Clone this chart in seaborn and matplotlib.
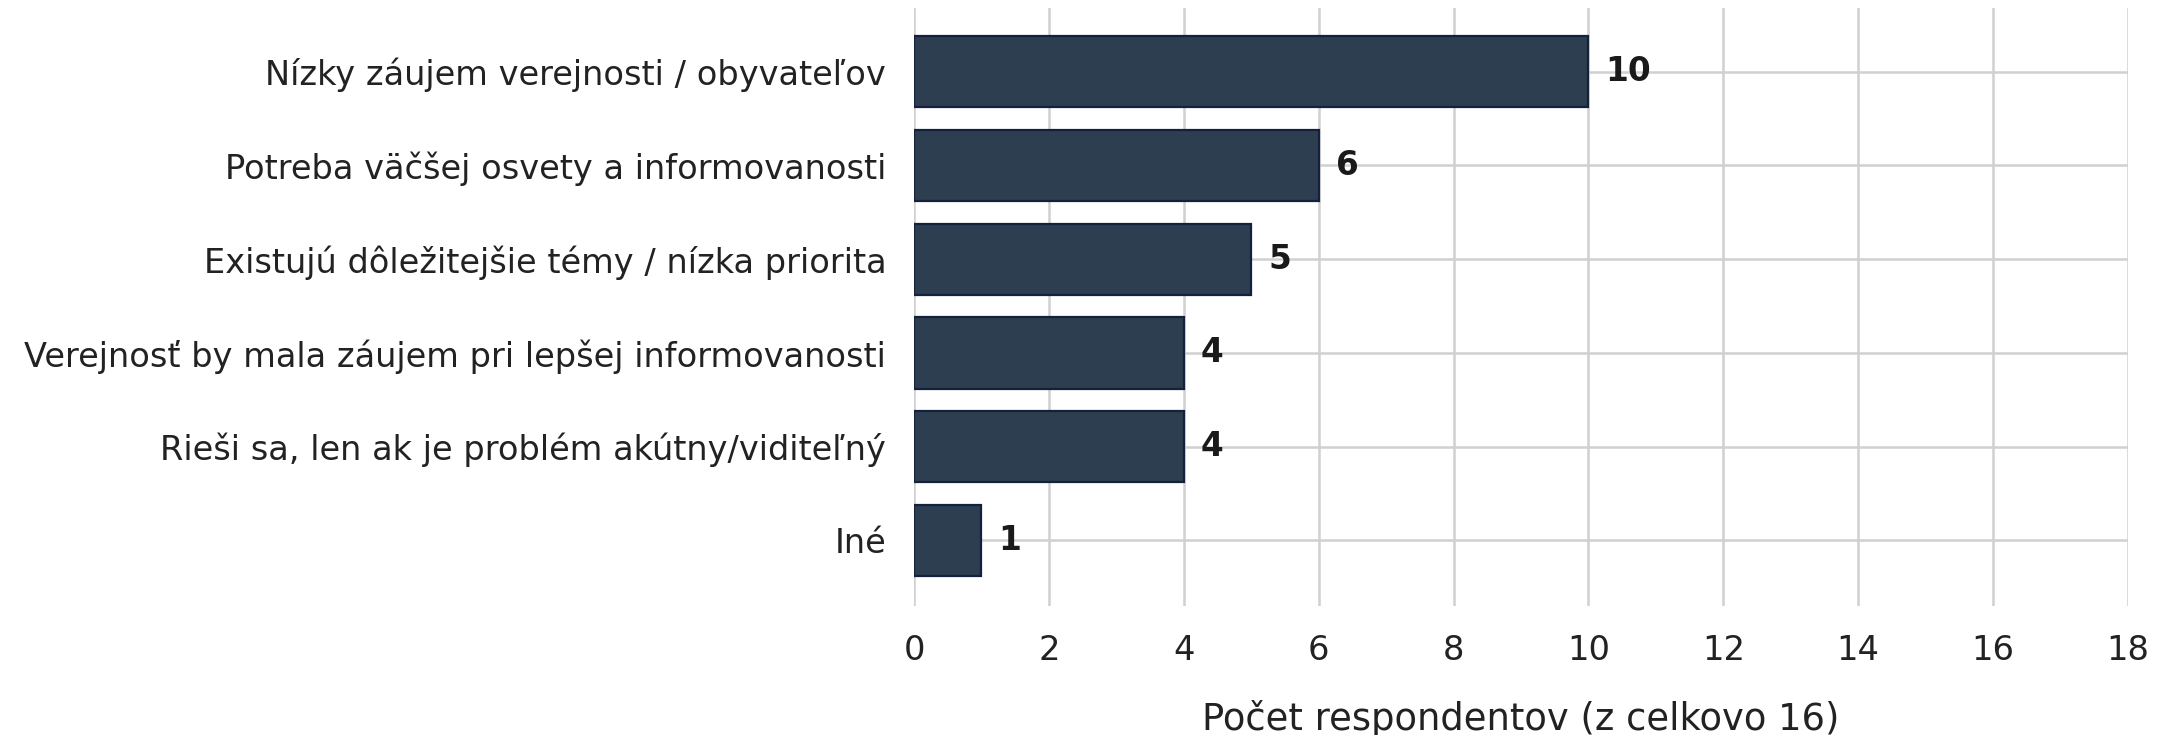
import matplotlib
matplotlib.use("Agg")
import matplotlib.pyplot as plt
import seaborn as sns
import pandas as pd

categories = [
    "Nízky záujem verejnosti / obyvateľov",
    "Potreba väčšej osvety a informovanosti",
    "Existujú dôležitejšie témy / nízka priorita",
    "Verejnosť by mala záujem pri lepšej informovanosti",
    "Rieši sa, len ak je problém akútny/viditeľný",
    "Iné",
]
counts = [10, 6, 5, 4, 4, 1]
xticks = [0, 2, 4, 6, 8, 10, 12, 14, 16, 18]
xlabel = "Počet respondentov (z celkovo 16)"

df = pd.DataFrame({"cat": categories, "n": counts})

sns.set_theme(style="whitegrid")
plt.rcParams["font.family"] = ["DejaVu Sans"]

DPI = 200
fig = plt.figure(figsize=(2177 / DPI, 735 / DPI), dpi=DPI)
ax = fig.add_axes([914 / 2177, 1 - 606 / 735, (2128 - 914) / 2177, (606 - 8) / 735])

sns.barplot(data=df, x="n", y="cat", ax=ax, color="#2c3e50", saturation=1,
            width=0.76, edgecolor="#14213d", linewidth=0.8)

for i, v in enumerate(counts):
    ax.text(v + 0.25, i, str(v), va="center", ha="left", fontsize=11.8,
            fontweight="bold", color="#1a1a1a")

ax.set_xlim(0, 18)
ax.set_ylim(5.7, -0.68)
ax.set_xticks(xticks)
ax.set_xticklabels([str(t) for t in xticks])
ax.set_xlabel(xlabel, fontsize=13.3, color="#222222", labelpad=12)
ax.set_ylabel("")
ax.tick_params(axis="both", labelsize=12.1, colors="#222222", length=0, pad=10)
ax.grid(True, axis="both", color="#d0d0d0", linewidth=0.9)
ax.set_axisbelow(True)
for s in ax.spines.values():
    s.set_visible(False)

fig.savefig("out.png", dpi=DPI)
